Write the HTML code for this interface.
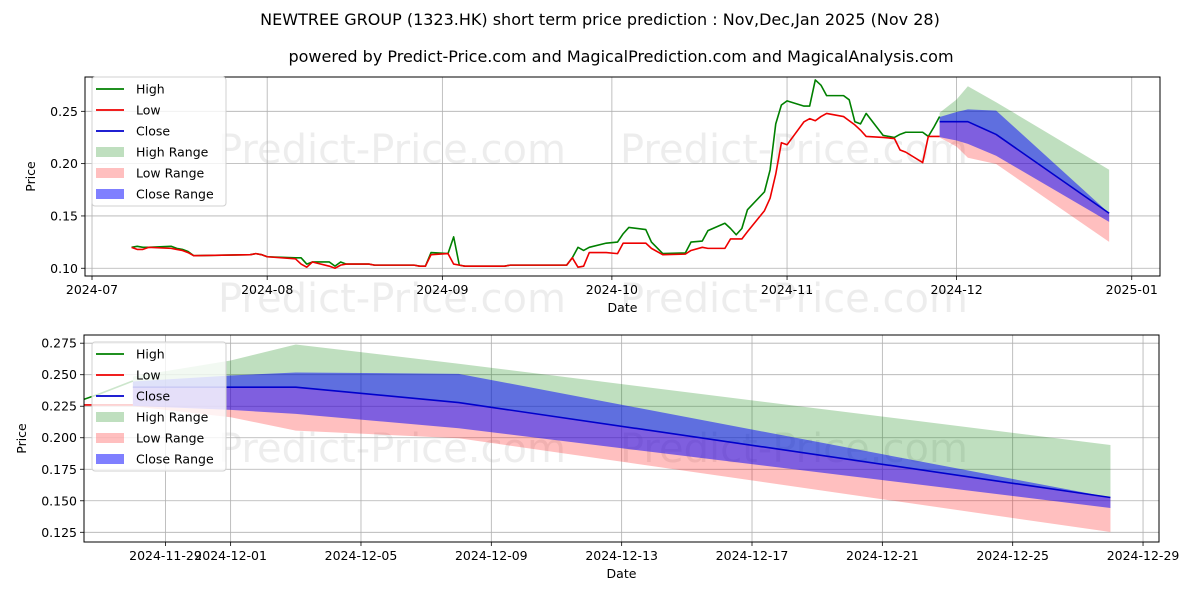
<!DOCTYPE html>
<html><head><meta charset="utf-8"><style>
html,body{margin:0;padding:0;background:#fff;}
svg{display:block;font-family:"DejaVu Sans","Liberation Sans",sans-serif;}
</style></head><body>
<svg id="chart" width="1200" height="600" viewBox="0 0 1200 600">
<text x="600" y="25" text-anchor="middle" font-size="16">NEWTREE GROUP (1323.HK) short term price prediction : Nov,Dec,Jan 2025 (Nov 28)</text>
<text x="621" y="62" text-anchor="middle" font-size="16">powered by Predict-Price.com and MagicalPrediction.com and MagicalAnalysis.com</text>
</svg>
<script>
// ---- historical data (top chart) ----
const histDates = ["2024-07-08","2024-07-09","2024-07-10","2024-07-11","2024-07-15","2024-07-16","2024-07-17","2024-07-18","2024-07-19","2024-07-29","2024-07-30","2024-07-31","2024-08-01","2024-08-06","2024-08-07","2024-08-08","2024-08-09","2024-08-12","2024-08-13","2024-08-14","2024-08-15","2024-08-19","2024-08-20","2024-08-27","2024-08-28","2024-08-29","2024-08-30","2024-09-02","2024-09-03","2024-09-04","2024-09-05","2024-09-12","2024-09-13","2024-09-23","2024-09-24","2024-09-25","2024-09-26","2024-09-27","2024-09-30","2024-10-02","2024-10-03","2024-10-04","2024-10-07","2024-10-08","2024-10-10","2024-10-14","2024-10-15","2024-10-17","2024-10-18","2024-10-21","2024-10-22","2024-10-23","2024-10-24","2024-10-25","2024-10-28","2024-10-29","2024-10-30","2024-10-31","2024-11-01","2024-11-04","2024-11-05","2024-11-06","2024-11-07","2024-11-08","2024-11-11","2024-11-12","2024-11-13","2024-11-14","2024-11-15","2024-11-18","2024-11-20","2024-11-21","2024-11-22","2024-11-25","2024-11-26","2024-11-27","2024-11-28"];
const highValues = [0.120,0.121,0.120,0.120,0.121,0.119,0.118,0.116,0.112,0.113,0.114,0.113,0.111,0.110,0.110,0.104,0.106,0.106,0.102,0.106,0.104,0.104,0.103,0.103,0.102,0.102,0.115,0.114,0.130,0.103,0.102,0.102,0.103,0.103,0.110,0.120,0.117,0.120,0.124,0.125,0.133,0.139,0.137,0.125,0.114,0.1146,0.125,0.126,0.136,0.143,0.138,0.132,0.138,0.156,0.173,0.194,0.238,0.256,0.260,0.255,0.255,0.280,0.275,0.265,0.265,0.261,0.240,0.238,0.248,0.227,0.225,0.228,0.230,0.230,0.226,0.235,0.245];
const lowValues = [0.120,0.118,0.118,0.120,0.119,0.118,0.117,0.115,0.112,0.113,0.114,0.113,0.111,0.109,0.104,0.101,0.106,0.102,0.100,0.103,0.104,0.104,0.103,0.103,0.102,0.102,0.113,0.114,0.104,0.103,0.102,0.102,0.103,0.103,0.110,0.101,0.102,0.115,0.115,0.114,0.124,0.124,0.124,0.119,0.113,0.1135,0.117,0.120,0.119,0.119,0.128,0.128,0.128,0.135,0.155,0.167,0.190,0.220,0.218,0.240,0.243,0.241,0.245,0.248,0.245,0.241,0.237,0.232,0.226,0.225,0.224,0.213,0.211,0.201,0.226,0.226,0.226];
// ---- prediction data ----
const predDates = ["2024-11-28","2024-12-01","2024-12-03","2024-12-08","2024-12-28"];
const predClose = [0.2401,0.2401,0.2401,0.2279,0.1526];
const predCloseUpper = [0.2446,0.2494,0.2518,0.2507,0.1526];
const predCloseLower = [0.2253,0.2221,0.2189,0.2075,0.1443];
const predHighUpper = [0.2486,0.2613,0.2740,0.2587,0.1942];
const predLowLower = [0.2250,0.2163,0.2056,0.1996,0.1252];
// ---- ticks ----
const topXTicks = ["2024-07","2024-08","2024-09","2024-10","2024-11","2024-12","2025-01"];
const topYTicks = [0.10,0.15,0.20,0.25];
const botXTicks = ["2024-11-29","2024-12-01","2024-12-05","2024-12-09","2024-12-13","2024-12-17","2024-12-21","2024-12-25","2024-12-29"];
const botYTicks = [0.125,0.150,0.175,0.200,0.225,0.250,0.275];

const NS="http://www.w3.org/2000/svg";
const svg=document.getElementById('chart');
function mk(tag,attrs,parent){const e=document.createElementNS(NS,tag);for(const k in attrs)e.setAttribute(k,attrs[k]);(parent||svg).appendChild(e);return e;}
function dayNum(s){const p=s.split('-').map(Number);return Date.UTC(p[0],p[1]-1,p[2]||1)/86400000;}

function buildPanel(cfg){
  const g=mk('g',{});
  
  
  const L=cfg.left,R=cfg.right,T=cfg.top,B=cfg.bottom;
  const X=d=>L+(dayNum(d)-cfg.x0)/(cfg.x1-cfg.x0)*(R-L);
  const Y=v=>B-(v-cfg.y0)/(cfg.y1-cfg.y0)*(B-T);
  // watermarks
  cfg.wm.forEach(w=>{const t=mk('text',{x:w[0],y:w[1],'font-size':40,fill:'#000','fill-opacity':0.07},g);t.textContent='Predict-Price.com';
    
    });
  // grid
  cfg.xt.forEach(d=>{const x=X(d);if(x<L-1||x>R+1)return;const ln=mk('line',{x1:x,x2:x,y1:T,y2:B,stroke:'#b0b0b0','stroke-width':0.8},g);
    
    
    mk('line',{x1:x,x2:x,y1:B,y2:B+4,stroke:'#000','stroke-width':0.8},g);
    const t=mk('text',{x:x,y:B+18,'text-anchor':'middle','font-size':12.5},g);t.textContent=d;
    
    });
  cfg.yt.forEach(v=>{const y=Y(v);const ln=mk('line',{x1:L,x2:R,y1:y,y2:y,stroke:'#b0b0b0','stroke-width':0.8},g);
    
    
    mk('line',{x1:L-4,x2:L,y1:y,y2:y,stroke:'#000','stroke-width':0.8},g);
    const t=mk('text',{x:L-7,y:y+4.5,'text-anchor':'end','font-size':12.5},g);t.textContent=v.toFixed(cfg.dec);
    
    });
  // clip
  const cid='clip'+cfg.name;const cp=mk('clipPath',{id:cid},g);mk('rect',{x:L,y:T,width:R-L,height:B-T},cp);
  const pg=mk('g',{'clip-path':'url(#'+cid+')'},g);
  function band(up,lo,fill,op,name){let p=predDates.map((d,i)=>X(d)+','+Y(up[i]));p=p.concat(predDates.map((d,i)=>X(d)+','+Y(lo[i])).reverse());
    const e=mk('polygon',{points:p.join(' '),fill:fill,'fill-opacity':op},pg);
    
    }
  band(predHighUpper,predClose,'#008000',0.25,'high-range-band');
  band(predClose,predLowLower,'#ff0000',0.25,'low-range-band');
  band(predCloseUpper,predCloseLower,'#0000ff',0.5,'close-range-band');
  function line(dates,vals,col,name){const e=mk('polyline',{points:dates.map((d,i)=>X(d)+','+Y(vals[i])).join(' '),fill:'none',stroke:col,'stroke-width':1.6,'stroke-linejoin':'round'},pg);
    
    }
  line(histDates,highValues,'#008000','high-line');
  line(histDates,lowValues,'#ee0000','low-line');
  line(predDates,predClose,'#0000cc','close-line');
  mk('rect',{x:L,y:T,width:R-L,height:B-T,fill:'none',stroke:'#000','stroke-width':1},g);
  // axis labels
  const xl=mk('text',{x:(L+R)/2,y:B+36,'text-anchor':'middle','font-size':12.5},g);xl.textContent='Date';
  
  
  const yl=mk('text',{x:0,y:0,'text-anchor':'middle','font-size':12.5,transform:'translate('+cfg.ylx+','+(T+B)/2+') rotate(-90)'},g);yl.textContent='Price';
  
  
  // legend
  const lg=mk('g',{},g);
  
  
  const ly=cfg.legTop;
  mk('rect',{x:92,y:ly,width:134,height:129,rx:3,fill:'#fff','fill-opacity':0.8,stroke:'#d0d0d0'},lg);
  const items=[['High','line','#008000',1],['Low','line','#ee0000',1],['Close','line','#0000cc',1],['High Range','box','#008000',0.25],['Low Range','box','#ff0000',0.25],['Close Range','box','#0000ff',0.5]];
  items.forEach((it,i)=>{const cy=ly+12+i*21;
    if(it[1]=='line')mk('line',{x1:96,x2:124,y1:cy,y2:cy,stroke:it[2],'stroke-width':1.8},lg);
    else mk('rect',{x:96,y:cy-5,width:28,height:10,fill:it[2],'fill-opacity':it[3]},lg);
    const t=mk('text',{x:136,y:cy+4.5,'font-size':12.5},lg);t.textContent=it[0];
    
    });
}
buildPanel({name:'top-panel',left:85,right:1160,top:77,bottom:276,
  x0:dayNum('2024-07-01')-1.24,x1:dayNum('2024-07-01')+189,y0:0.0926,y1:0.2828,
  xt:topXTicks,yt:topYTicks,dec:2,ylx:35,legTop:77,
  wm:[[218,163],[620,163],[218,312],[620,312]]});
buildPanel({name:'bottom-panel',left:84,right:1159,top:335,bottom:542,
  x0:dayNum('2024-11-29')-2.5,x1:dayNum('2024-11-29')+30.49,y0:0.1173,y1:0.2815,
  xt:botXTicks,yt:botYTicks,dec:3,ylx:26,legTop:342,
  wm:[[218,462],[620,462]]});
</script>
</body></html>
